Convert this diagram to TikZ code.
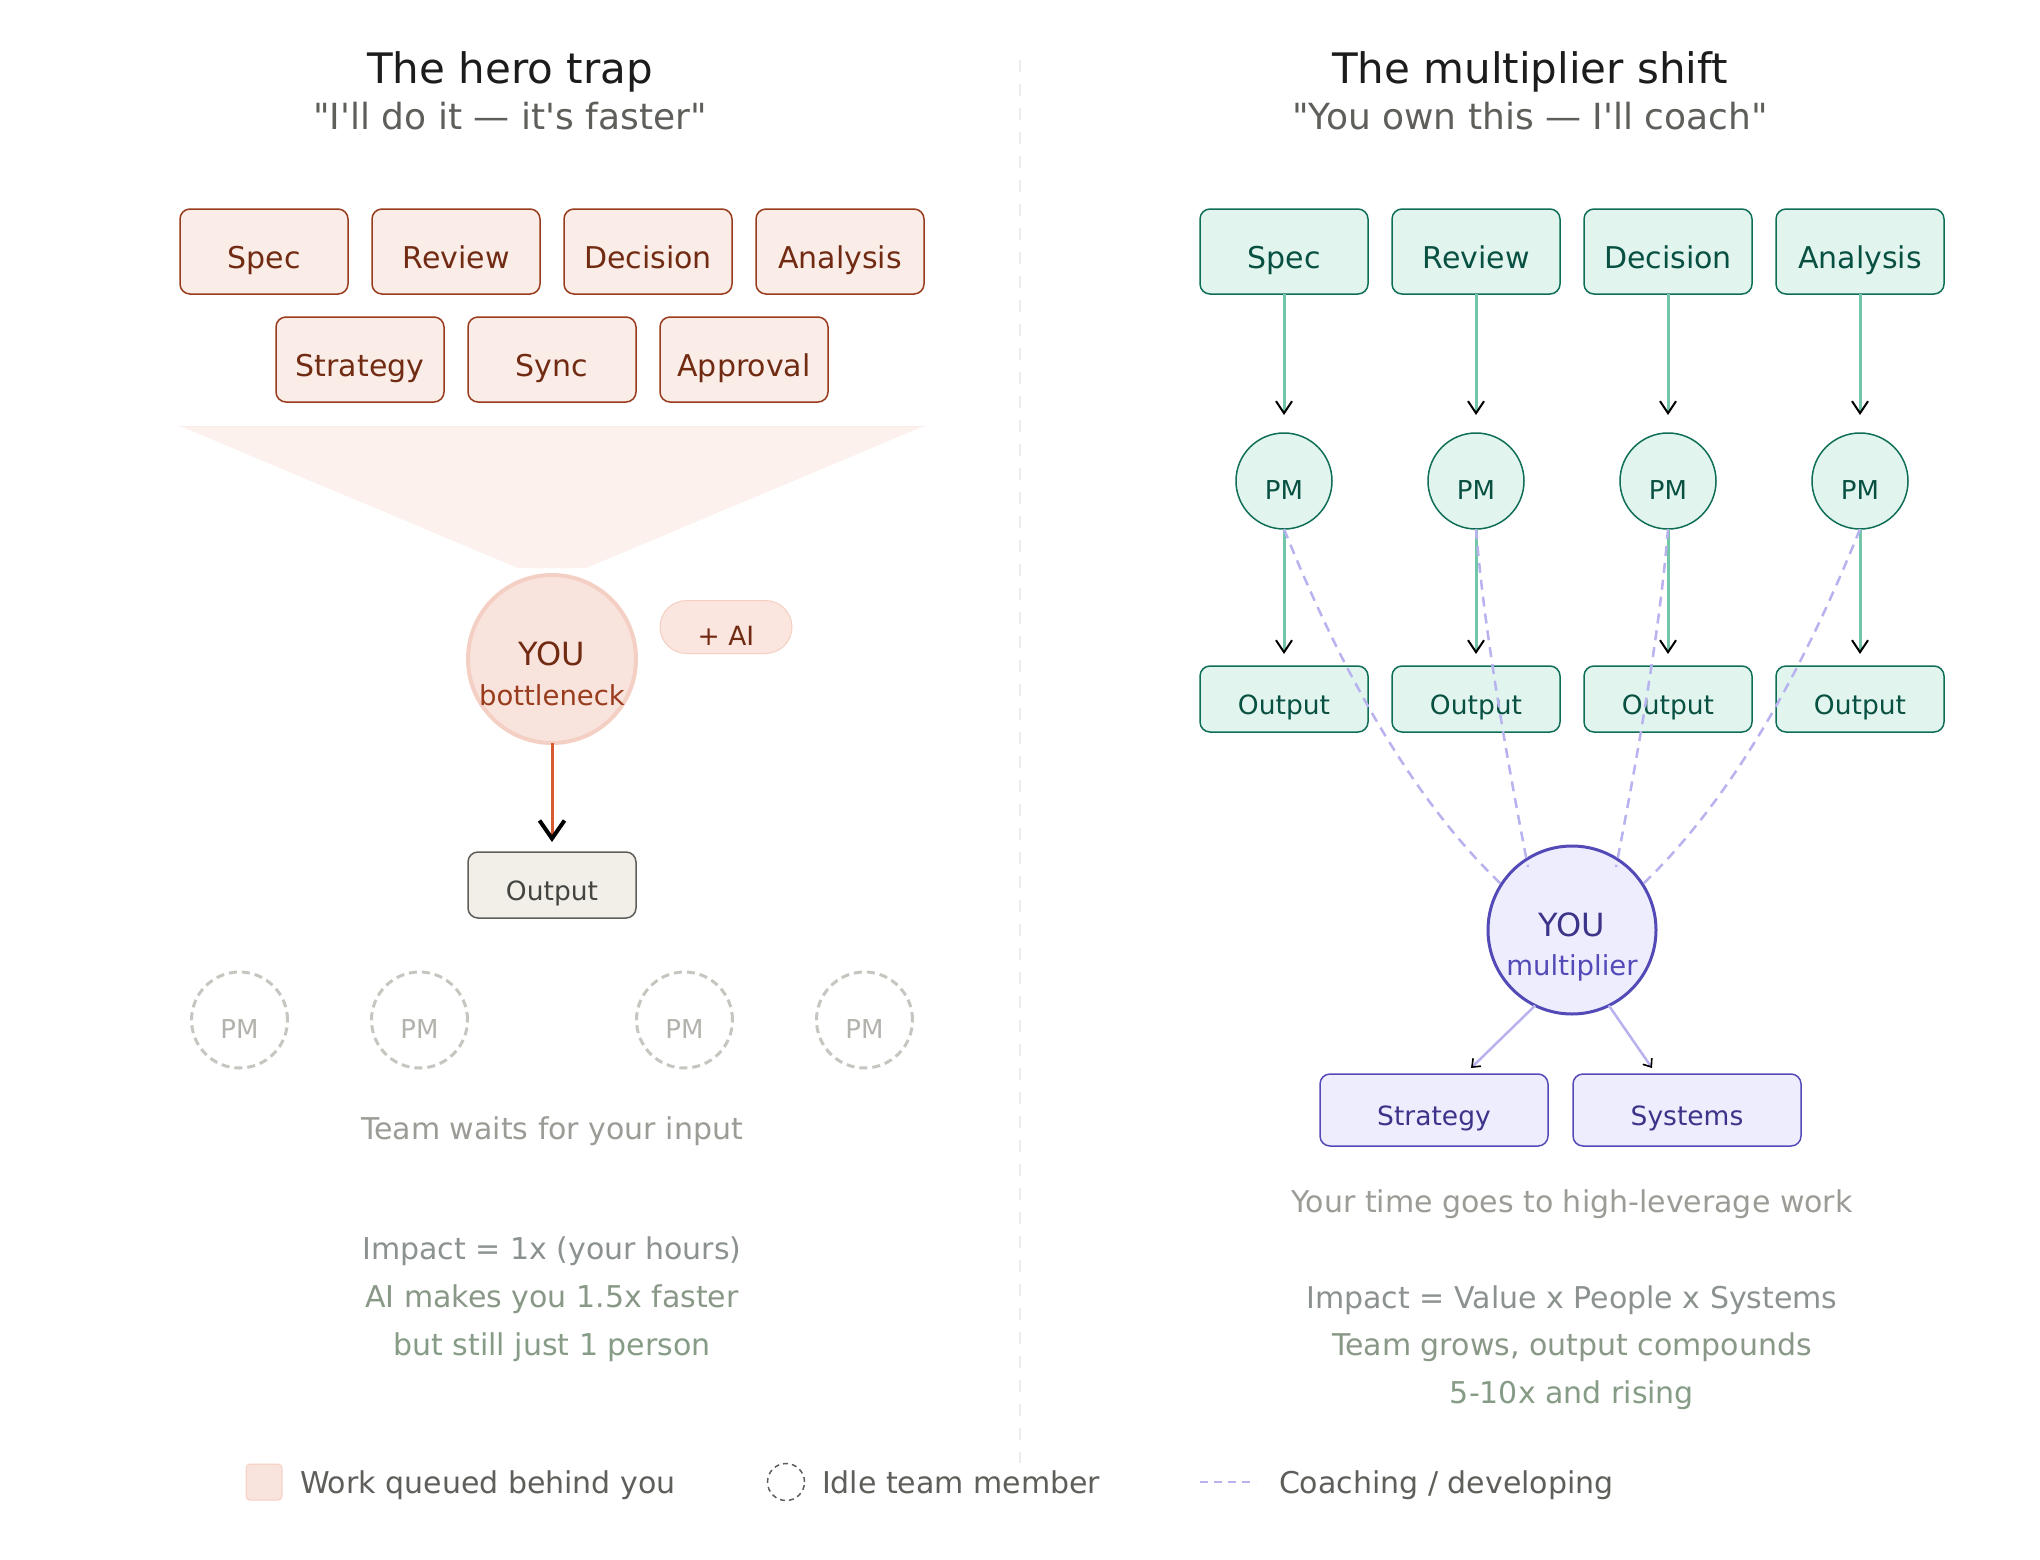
\documentclass[tikz,border=0pt]{standalone}
\usepackage{fontspec}
\setmainfont{DejaVu Sans}[Ligatures=TeXOff]
\usetikzlibrary{arrows.meta,calc}
\definecolor{coralL}{HTML}{FAECE7}
\definecolor{coralB}{HTML}{993C1D}
\definecolor{coralT}{HTML}{712B13}
\definecolor{coralS}{HTML}{993C1D}
\definecolor{youfill}{HTML}{F9E4DD}
\definecolor{youborder}{HTML}{F4D0C4}
\definecolor{funnelc}{HTML}{FCF1EC}
\definecolor{aifill}{HTML}{FAE6DF}
\definecolor{aiborder}{HTML}{F5CFC2}
\definecolor{arrowred}{HTML}{D85A30}
\definecolor{grayfill}{HTML}{F1EFE8}
\definecolor{grayborder}{HTML}{5F5E5A}
\definecolor{graytext}{HTML}{444441}
\definecolor{idle}{HTML}{C6C5BF}
\definecolor{idletext}{HTML}{B4B2AC}
\definecolor{tealfill}{HTML}{E1F5EE}
\definecolor{tealborder}{HTML}{0F6E56}
\definecolor{tealtext}{HTML}{085041}
\definecolor{tealarrow}{HTML}{72C6A9}
\definecolor{purpfill}{HTML}{EEEDFE}
\definecolor{purpborder}{HTML}{534AB7}
\definecolor{purptext}{HTML}{3C3489}
\definecolor{purpline}{HTML}{B8B2EE}
\definecolor{muted}{HTML}{9C9B95}
\definecolor{impA}{HTML}{8C938E}
\definecolor{impB}{HTML}{8A9888}
\definecolor{impC}{HTML}{869C86}
\definecolor{titlec}{HTML}{1C1C1C}
\definecolor{subc}{HTML}{5F5E5A}
\definecolor{divc}{HTML}{ECECEC}
\newcommand{\fsz}[1]{\fontsize{#1}{#1}\selectfont}
\begin{document}
\begin{tikzpicture}[x=1pt,y=-1pt,
  every node/.style={inner sep=0pt,outer sep=0pt},
  txt/.style={anchor=base,font=\fsz{30}},
  ttl/.style={anchor=base,font=\fsz{42},text=titlec},
  sub/.style={anchor=base,font=\fsz{36},text=subc},
  leg/.style={anchor=base west,font=\fsz{30},text=subc},
  hbox/.style={draw=coralB,fill=coralL,line width=1.5pt,rounded corners=10pt,
    minimum width=168pt,minimum height=85pt,text=coralT,font=\fsz{30},
    text height=34pt,text depth=0pt},
  tbox/.style={draw=tealborder,fill=tealfill,line width=1.5pt,rounded corners=10pt,
    minimum width=168pt,minimum height=85pt,text=tealtext,font=\fsz{30},
    text height=34pt,text depth=0pt},
  tout/.style={draw=tealborder,fill=tealfill,line width=1.5pt,rounded corners=10pt,
    minimum width=168pt,minimum height=66pt,text=tealtext,font=\fsz{26.5},
    text height=31pt,text depth=0pt},
  tpm/.style={circle,draw=tealborder,fill=tealfill,line width=1.5pt,
    minimum size=96pt,text=tealtext,font=\fsz{26},text height=37pt,text depth=0pt},
  idlepm/.style={circle,draw=idle,line width=3pt,dash pattern=on 8pt off 5pt,
    minimum size=96pt,text=idletext,font=\fsz{26},text height=37pt,text depth=0pt},
  pbox/.style={draw=purpborder,fill=purpfill,line width=1.5pt,rounded corners=10pt,
    minimum width=228pt,minimum height=72pt,text=purptext,font=\fsz{26.5},
    text height=30pt,text depth=0pt},
  gtip/.style={-{Straight Barb[length=12pt,width=16pt,line width=2pt,color=black]}},
  garrow/.style={draw=tealarrow,line width=3pt,gtip},
  coach/.style={draw=purpline,line width=2.5pt,dash pattern=on 10pt off 7pt},
  parrow/.style={draw=purpline,line width=2.5pt,
    -{Straight Barb[length=7pt,width=11pt,line width=1.6pt,color=black]}}
]
\fill[white] (0,0) rectangle (2040,1560);
\useasboundingbox (0,0) rectangle (2040,1560);

% divider
\draw[divc,line width=2pt,dash pattern=on 12pt off 12pt] (1020,60) -- (1020,1463);

% titles
\node[ttl] (t1) at (510,84) {The hero trap};
\node[sub] (st1) at (510,130) {"I'll do it — it's faster"};
\node[ttl] (t2) at (1530,84) {The multiplier shift};
\node[sub] (st2) at (1530,130) {"You own this — I'll coach"};

% ---------- left: hero trap ----------
\node[hbox] (l1) at (264,251.5) {Spec};
\node[hbox] (l2) at (456,251.5) {Review};
\node[hbox] (l3) at (648,251.5) {Decision};
\node[hbox] (l4) at (840,251.5) {Analysis};
\node[hbox] (l5) at (360,359.5) {Strategy};
\node[hbox] (l6) at (552,359.5) {Sync};
\node[hbox] (l7) at (744,359.5) {Approval};

% funnel
\fill[funnelc] (180,426) -- (924,426) -- (586,568) -- (518,568) -- cycle;
\draw[youborder!40,line width=1pt] (180,426) -- (924,426);

\node[circle,draw=youborder,fill=youfill,line width=4pt,minimum size=168pt] (you1) at (552,659) {};
\node[anchor=base,font=\fsz{32},text=coralT] (you1a) at (552,665) {YOU};
\node[anchor=base,font=\fsz{27.5},text=coralS] (you1b) at (552,705) {bottleneck};

\node[draw=aiborder,fill=aifill,line width=1pt,rounded corners=26.5pt,
  minimum width=132pt,minimum height=53pt,text=coralT,font=\fsz{26.5},
  text height=36pt,text depth=0pt] (ai) at (726,627) {+ AI};

\node[draw=grayborder,fill=grayfill,line width=1.5pt,rounded corners=10pt,
  minimum width=168pt,minimum height=66pt,text=graytext,font=\fsz{26.5},
  text height=30pt,text depth=0pt] (out1) at (552,885) {Output};

\draw[arrowred,line width=3pt,shorten >=10pt,
  -{Straight Barb[length=18pt,width=25pt,line width=4pt,color=black]}]
  (you1.south) -- (out1.north);

\node[idlepm] (i1) at (239.5,1020) {PM};
\node[idlepm] (i2) at (419.5,1020) {PM};
\node[idlepm] (i3) at (684.5,1020) {PM};
\node[idlepm] (i4) at (864.5,1020) {PM};

\node[txt,text=muted] (lw) at (552,1139) {Team waits for your input};
\node[txt,text=impA] (li1) at (552,1259) {Impact = 1x (your hours)};
\node[txt,text=impB] (li2) at (552,1307) {AI makes you 1.5x faster};
\node[txt,text=impC] (li3) at (552,1355) {but still just 1 person};

% ---------- right: multiplier shift ----------
\node[tbox] (r1) at (1284,251.5) {Spec};
\node[tbox] (r2) at (1476,251.5) {Review};
\node[tbox] (r3) at (1668,251.5) {Decision};
\node[tbox] (r4) at (1860,251.5) {Analysis};

\node[tpm] (p1) at (1284,481) {PM};
\node[tpm] (p2) at (1476,481) {PM};
\node[tpm] (p3) at (1668,481) {PM};
\node[tpm] (p4) at (1860,481) {PM};

\node[tout] (o1) at (1284,699) {Output};
\node[tout] (o2) at (1476,699) {Output};
\node[tout] (o3) at (1668,699) {Output};
\node[tout] (o4) at (1860,699) {Output};

\foreach \i in {1,2,3,4}{
  \draw[garrow,shorten >=18pt] (r\i.south) -- (p\i.north);
  \draw[garrow,shorten >=12pt] (p\i.south) -- (o\i.north);
}

\node[circle,draw=purpborder,fill=purpfill,line width=3pt,minimum size=168pt] (you2) at (1572,930) {};
\node[anchor=base,font=\fsz{32},text=purptext] (you2a) at (1572,936) {YOU};
\node[anchor=base,font=\fsz{27.5},text=purpborder] (you2b) at (1572,975) {multiplier};

\coordinate (c1) at ($(you2.center)+(-72,-47)$);
\coordinate (c2) at ($(you2.center)+(-44,-63)$);
\coordinate (c3) at ($(you2.center)+(44,-63)$);
\coordinate (c4) at ($(you2.center)+(72,-47)$);
\draw[coach] (p1.south) .. controls (1348,688) and (1420,806) .. (c1);
\draw[coach] (p2.south) .. controls (1483,616) and (1501,729) .. (c2);
\draw[coach] (p3.south) .. controls (1661,616) and (1643,729) .. (c3);
\draw[coach] (p4.south) .. controls (1796,688) and (1724,806) .. (c4);

\node[pbox] (strat) at (1434,1110) {Strategy};
\node[pbox] (sys) at (1687,1110) {Systems};
\draw[parrow] (you2.-116) -- ($(strat.north)+(37,-6)$);
\draw[parrow] (you2.-64) -- ($(sys.north)+(-35,-6)$);

\node[txt,text=muted] (rw) at (1572,1212) {Your time goes to high-leverage work};
\node[txt,text=impA] (ri1) at (1572,1308) {Impact = Value x People x Systems};
\node[txt,text=impB] (ri2) at (1572,1355) {Team grows, output compounds};
\node[txt,text=impC] (ri3) at (1572,1403) {5-10x and rising};

% ---------- legend ----------
\node[draw=aiborder,fill=youfill,line width=1pt,rounded corners=4pt,
  minimum width=36pt,minimum height=36pt] (lg1) at (264,1482) {};
\node[leg] (lg1t) at (300,1493) {Work queued behind you};
\node[circle,draw=subc,line width=1.5pt,dash pattern=on 5pt off 4pt,
  minimum size=37pt] (lg2) at (786,1482) {};
\node[leg] (lg2t) at (822,1493) {Idle team member};
\coordinate (lg3a) at (1200,1482);
\coordinate (lg3b) at (1256,1482);
\draw[purpline,line width=2.5pt,dash pattern=on 8pt off 6pt] (lg3a) -- (lg3b);
\node[leg] (lg3t) at (1279,1493) {Coaching / developing};
\end{tikzpicture}
\end{document}
